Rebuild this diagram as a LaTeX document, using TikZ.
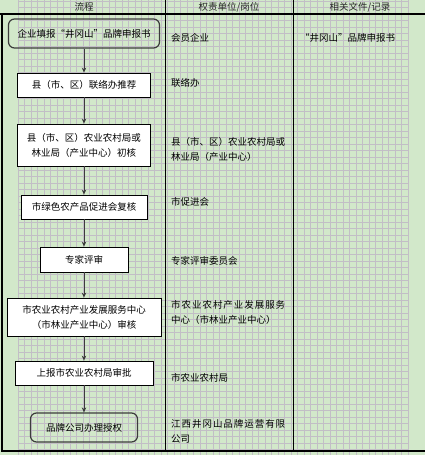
\documentclass[tikz,border=0pt]{standalone}
\usepackage{fontspec}
\setmainfont{Noto Sans CJK SC}
\usetikzlibrary{arrows.meta, positioning}
\definecolor{sheetbg}{HTML}{D2E8CA}
\definecolor{gridgray}{HTML}{C2BEC6}
\definecolor{edgegray}{HTML}{3C3C3C}

\begin{document}
\begin{tikzpicture}[
  x=1pt, y=-1pt,
  font=\fontsize{9.5}{15}\selectfont,
  gridline/.style={gridgray, line width=0.9pt},
  frame/.style={black, line width=1.3pt},
  stepbox/.style={rectangle, draw=black, fill=white, line width=0.8pt,
                  minimum height=24pt, inner sep=2pt, align=center},
  endbox/.style={rectangle, rounded corners=6pt, draw=edgegray, line width=1.2pt,
                 minimum height=29pt, inner sep=2pt, align=center},
  duty/.style={anchor=west, align=left, inner sep=0pt},
  head/.style={text=black!85, inner sep=0pt},
  arr/.style={-{Stealth[length=5pt, width=4.5pt]}, edgegray, line width=0.9pt}
]
  \useasboundingbox (0,0) rectangle (425,455);
  \fill[sheetbg] (0,0) rectangle (425,455);

  % sheet grid
  \foreach \gx in {0,...,60}
    \draw[gridline] ({18+6.5*\gx},0) -- ({18+6.5*\gx},455);
  \foreach \gy in {0,...,70}
    \draw[gridline] (18,{1+6.5*\gy}) -- (408,{1+6.5*\gy});

  % table frame
  \draw[frame] (0,14) -- (425,14);
  \draw[frame] (2,14) -- (2,451) -- (425,451);
  \draw[frame] (165.5,0) -- (165.5,451);
  \draw[frame] (293.5,0) -- (293.5,451);

  \node[head] (hflow) at (84,7)  {流程};
  \node[head] (hduty) at (229,7) {权责单位/岗位};
  \node[head] (hdoc)  at (360,7) {相关文件/记录};

  % flow
  \node[endbox, minimum width=151pt]                    (apply)   at (84,33.5) {企业填报“井冈山”品牌申报书};
  \node[stepbox, minimum width=133pt]                   (county)  at (84,85)   {县（市、区）联络办推荐};
  \node[stepbox, minimum width=133pt, minimum height=42pt] (bureau) at (84,145) {县（市、区）农业农村局或\\林业局（产业中心）初核};
  \node[stepbox, minimum width=126pt]                   (assoc)   at (84,207)  {市绿色农产品促进会复核};
  \node[stepbox, minimum width=88pt, minimum height=25pt] (expert) at (84,259.5) {专家评审};
  \node[stepbox, minimum width=154pt, minimum height=38pt] (center) at (84,317) {市农业农村产业发展服务中心\\（市林业产业中心）审核};
  \node[stepbox, minimum width=138pt]                   (approve) at (84,373)  {上报市农业农村局审批};
  \node[endbox, minimum width=107pt]                    (license) at (84,427.5) {品牌公司办理授权};

  \draw[arr] (apply)   -- (county);
  \draw[arr] (county)  -- (bureau);
  \draw[arr] (bureau)  -- (assoc);
  \draw[arr] (assoc)   -- (expert);
  \draw[arr] (expert)  -- (center);
  \draw[arr] (center)  -- (approve);
  \draw[arr] (approve) -- (license);

  % duties
  \node[duty] (duty1) at (171,38)    {会员企业};
  \node[duty] (duty2) at (171,83)    {联络办};
  \node[duty] (duty3) at (171,149.5) {县（市、区）农业农村局或\\林业局（产业中心）};
  \node[duty] (duty4) at (171,202)   {市促进会};
  \node[duty] (duty5) at (171,261)   {专家评审委员会};
  \node[duty] (duty6) at (171,312)   {{\addfontfeature{LetterSpace=10}市农业农村产业发展服务}\\中心（市林业产业中心）};
  \node[duty] (duty7) at (171,378)   {市农业农村局};
  \node[duty] (duty8) at (171,431)   {{\addfontfeature{LetterSpace=10}江西井冈山品牌运营有限}\\公司};

  % records
  \node[duty] (doc1) at (300,38) {“井冈山”品牌申报书};
\end{tikzpicture}
\end{document}
